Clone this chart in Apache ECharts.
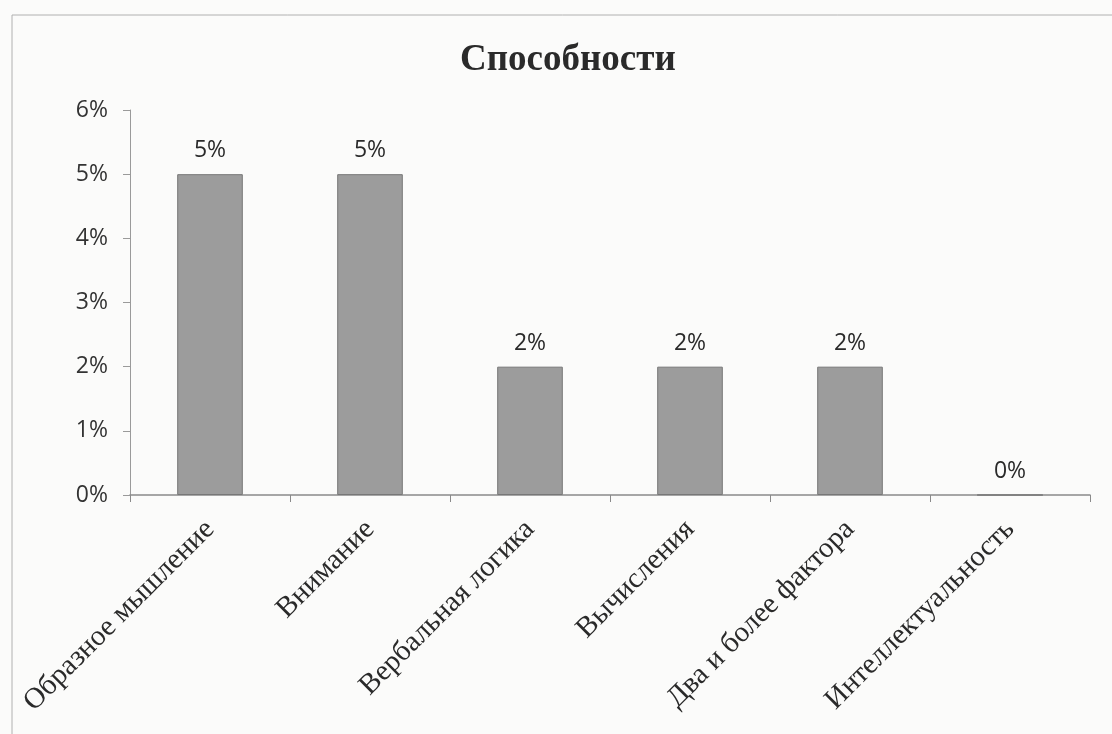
<!DOCTYPE html>
<html><head><meta charset="utf-8">
<script src="https://cdn.jsdelivr.net/npm/echarts@6/dist/echarts.min.js"></script>
<style>html,body{margin:0;padding:0;background:#fbfbfa;}#c{width:1112px;height:734px;}</style>
</head><body><div id="c"></div>
<script>
const categories = ['Образное мышление','Внимание','Вербальная логика','Вычисления','Два и более фактора','Интеллектуальность'];
const values = [5, 5, 2, 2, 2, 0];
const yTicks = [0, 1, 2, 3, 4, 5, 6];
const title = 'Способности';

const chart = echarts.init(document.getElementById('c'));
chart.setOption({
  backgroundColor: '#fbfbfa',
  animation: false,
  title: {
    text: title, left: 460, top: 42, padding: 0,
    textStyle: {fontFamily: 'Liberation Serif', fontWeight: 'bold', fontSize: 37, color: '#2a2a2a'}
  },
  graphic: [{
    type: 'rect', shape: {x: 12, y: 15, width: 1200, height: 800},
    style: {fill: 'none', stroke: '#b0b0b0', lineWidth: 1}, silent: true
  }],
  grid: {left: 130, right: 22, top: 110, bottom: 239},
  xAxis: {
    type: 'category', data: categories,
    axisLine: {lineStyle: {color: '#8a8a8a', width: 1.5}},
    axisTick: {show: true, length: 7, lineStyle: {color: '#8a8a8a'}},
    axisLabel: {rotate: 45, interval: 0, margin: 30,
      fontFamily: 'Liberation Serif', fontSize: 29, color: '#2a2a2a'}
  },
  yAxis: {
    type: 'value', min: yTicks[0], max: yTicks[yTicks.length - 1], interval: 1,
    axisLine: {show: true, lineStyle: {color: '#9a9a9a', width: 1}},
    axisTick: {show: true, length: 7, lineStyle: {color: '#9a9a9a'}},
    splitLine: {show: false},
    axisLabel: {formatter: '{value}%', margin: 22,
      fontFamily: 'Open Sans', fontSize: 23, color: '#333'}
  },
  series: [{
    type: 'bar', data: values, barWidth: '41%',
    itemStyle: {color: '#9c9c9c', borderColor: '#777', borderWidth: 1},
    label: {show: true, position: 'top', distance: 12, formatter: '{c}%',
      fontFamily: 'Open Sans', fontSize: 23, color: '#2a2a2a'}
  }]
});
</script></body></html>
